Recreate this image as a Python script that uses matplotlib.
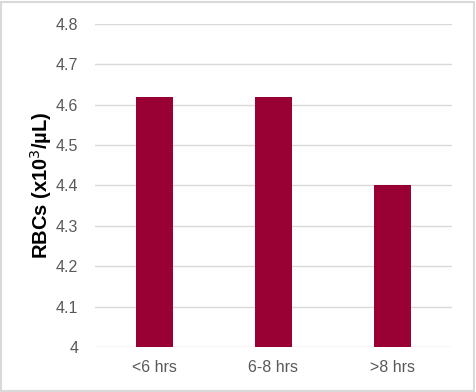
import matplotlib
matplotlib.use("Agg")
import matplotlib.pyplot as plt
from matplotlib.patches import Rectangle

categories = ["<6 hrs", "6-8 hrs", ">8 hrs"]
values = [4.62, 4.62, 4.40]
yticks = [4.0, 4.1, 4.2, 4.3, 4.4, 4.5, 4.6, 4.7, 4.8]
ytick_labels = ["4", "4.1", "4.2", "4.3", "4.4", "4.5", "4.6", "4.7", "4.8"]

plt.rcParams['font.family'] = ['Liberation Sans', 'DejaVu Sans']

W, H = 476, 392
fig = plt.figure(figsize=(W / 100, H / 100), dpi=100)
ax = fig.add_axes([95 / W, 1 - 347 / H, (452 - 95) / W, (347 - 24) / H])

x = range(len(categories))
ax.bar(x, values, width=0.31, color="#990033", zorder=2)
ax.set_xlim(-0.5, len(categories) - 0.5)
ax.set_ylim(4.0, 4.8)
ax.set_yticks(yticks)
ax.set_yticklabels(ytick_labels)
ax.set_xticks(list(x))
ax.set_xticklabels(categories)
ax.grid(axis="y", color="#d9d9d9", linewidth=1, zorder=0)
for s in ax.spines.values():
    s.set_visible(False)
ax.tick_params(axis="both", length=0, colors="#595959", labelsize=11.5)
ax.tick_params(axis="y", pad=12)
ax.tick_params(axis="x", pad=9)
ax.set_ylabel("RBCs (x10$^3$/µL)", fontsize=14.5, fontweight="bold",
              color="black", labelpad=1)

fig.patches.append(Rectangle((1 / W, 1 / H), (W - 3) / W, (H - 3) / H,
                             transform=fig.transFigure, fill=False,
                             edgecolor="#d9d9d9", linewidth=1.5))
fig.savefig("out.png", dpi=100)
